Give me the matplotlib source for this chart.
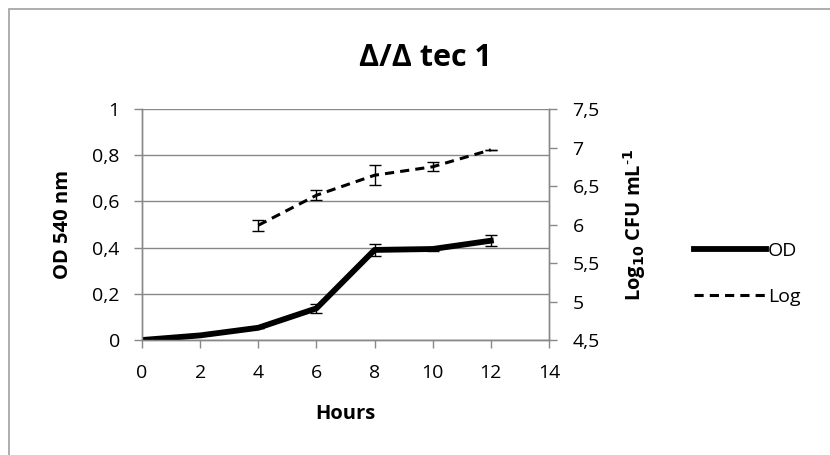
import numpy as np
import matplotlib.pyplot as plt
from matplotlib.patches import Rectangle
from matplotlib.lines import Line2D
from matplotlib.ticker import FuncFormatter

# ============================================================================
# DONNEES
# ============================================================================

hours = [0, 2, 4, 6, 8, 10, 12]
od = [0.0, 0.02, 0.053, 0.137, 0.39, 0.394, 0.43]
od_err = [0.0, 0.0, 0.0, 0.02, 0.025, 0.01, 0.023]

log_hours = [4, 6, 8, 10, 12]
log_cfu = [5.99, 6.38, 6.64, 6.75, 6.97]
log_err = [0.07, 0.065, 0.13, 0.06, 0.0]

title = "Δ/Δ tec 1"
grey = "#888888"

plt.rcParams['font.family'] = ['Open Sans', 'DejaVu Sans']


def virgule(v, pos):
    # format décimal avec virgule
    s = f"{v:g}"
    return s.replace(".", ",")


fig = plt.figure(figsize=(8.3, 4.55), dpi=100)
ax = fig.add_axes([0.1711, 0.2527, 0.4903, 0.5077])
ax2 = ax.twinx()

# cadre du graphique (type Excel)
fig.patches.append(Rectangle((0.0108, -0.05), 1.2, 1.03, transform=fig.transFigure,
                             fill=False, edgecolor="#a0a0a0", linewidth=1.2))

# OD
ax.errorbar(hours, od, yerr=od_err, color="black", linewidth=4.2, ecolor="black",
            elinewidth=1.0, capsize=4, capthick=1.0, zorder=3)
# Log CFU
ax2.errorbar(log_hours, log_cfu, yerr=log_err, color="black", linewidth=2.2,
             linestyle=(0, (3, 2)), ecolor="black", elinewidth=1.0, capsize=4,
             capthick=1.0, zorder=3)

ax.set_xlim(0, 14)
ax.set_ylim(0, 1)
ax2.set_ylim(4.5, 7.5)
ax.set_xticks(range(0, 15, 2))
ax.set_yticks(np.arange(0, 1.01, 0.2))
ax2.set_yticks(np.arange(4.5, 7.51, 0.5))
ax.yaxis.set_major_formatter(FuncFormatter(virgule))
ax2.yaxis.set_major_formatter(FuncFormatter(virgule))

ax.grid(axis='y', color=grey, linewidth=1.0)
ax.set_axisbelow(True)

for a in (ax, ax2):
    a.spines["top"].set_visible(False)
    for side in ("left", "bottom", "right"):
        a.spines[side].set_color(grey)
        a.spines[side].set_linewidth(1.0)
    a.tick_params(colors=grey, labelcolor="black", labelsize=14, length=6, width=1.0)
ax.tick_params(axis='y', pad=10)
ax2.tick_params(axis='y', pad=11)
ax.tick_params(axis='x', pad=11)

ax.set_xlabel("Hours", fontsize=14.5, fontweight="bold", labelpad=16)
ax.set_ylabel("OD 540 nm", fontsize=14.5, fontweight="bold", labelpad=14)
ax2.set_ylabel("Log$_{\\mathbf{10}}$ CFU mL$^{\\mathbf{\\text{-}1}}$", fontsize=14.5,
               fontweight="bold", labelpad=15)

fig.text(0.513, 0.873, title, fontsize=22, fontweight="bold", ha="center", va="center")

handles = [Line2D([], [], color="black", linewidth=4.2),
           Line2D([], [], color="black", linewidth=2.2, linestyle=(0, (3, 2)))]
fig.legend(handles, ["OD", "Log"], loc="center left", bbox_to_anchor=(0.815, 0.398),
           frameon=False, fontsize=14, handlelength=3.7, handletextpad=0.1,
           labelspacing=1.45)

plt.savefig("out.png", dpi=100)
